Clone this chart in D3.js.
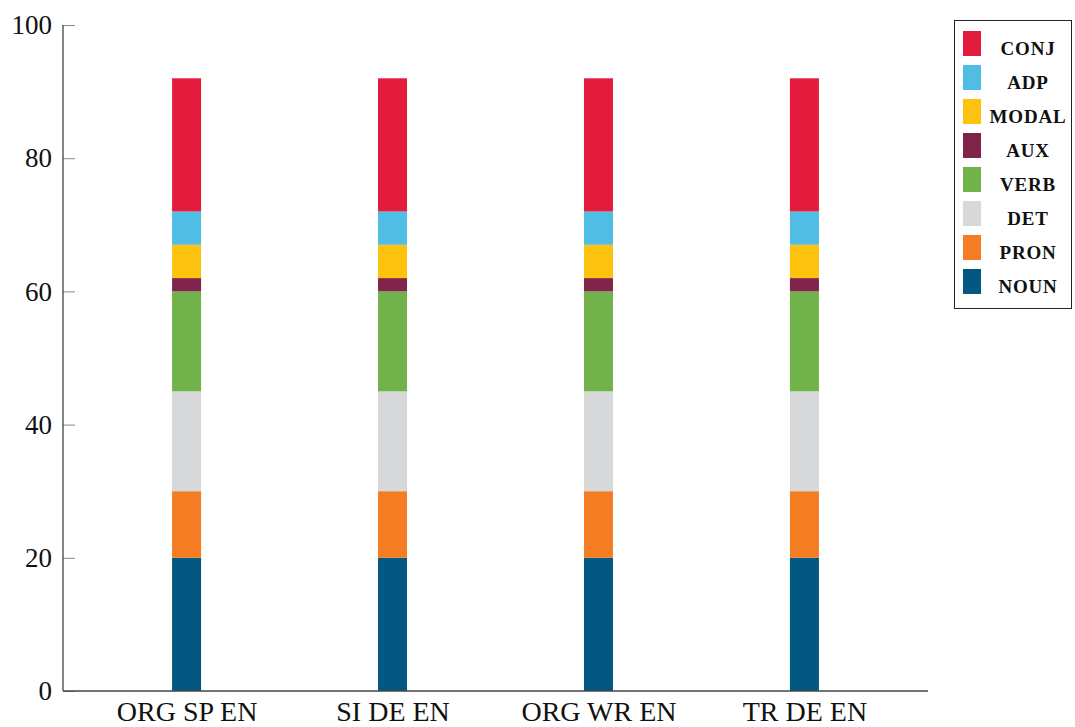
<!DOCTYPE html>
<html><head><meta charset="utf-8">
<script src="https://cdn.jsdelivr.net/npm/d3@7/dist/d3.min.js"></script>
<style>body{margin:0;background:#fff}svg{display:block}</style>
</head><body>
<svg id="chart" width="1075" height="727"></svg>
<script>
const categories = ["ORG SP EN", "SI DE EN", "ORG WR EN", "TR DE EN"];
const seriesNames = ["NOUN", "PRON", "DET", "VERB", "AUX", "MODAL", "ADP", "CONJ"];
const NOUN  = [20, 20, 20, 20];
const PRON  = [10, 10, 10, 10];
const DET   = [15, 15, 15, 15];
const VERB  = [15, 15, 15, 15];
const AUX   = [2, 2, 2, 2];
const MODAL = [5, 5, 5, 5];
const ADP   = [5, 5, 5, 5];
const CONJ  = [20, 20, 20, 20];
const yTicks = [0, 20, 40, 60, 80, 100];
const colors = ["#035783", "#f47d23", "#d7d8da", "#72b24b", "#80244b", "#fdc20e", "#4fbde4", "#e31c3d"];

const seriesValues = [NOUN, PRON, DET, VERB, AUX, MODAL, ADP, CONJ];
const table = categories.map((c, i) => {
  const row = {cat: c};
  seriesNames.forEach((s, k) => row[s] = seriesValues[k][i]);
  return row;
});
const stacked = d3.stack().keys(seriesNames)(table);

const svg = d3.select("#chart");
const font = "'Liberation Serif', 'DejaVu Serif', serif";
const mL = 63, mR = 928, mT = 25, mB = 691;

const x = d3.scalePoint().domain(categories).range([mL, mR]).padding(0.6);
const y = d3.scaleLinear().domain([0, 100]).range([mB, mT]);
const barW = 29;

// bars
stacked.forEach((layer, k) => {
  svg.append("g").attr("fill", colors[k])
    .selectAll("rect").data(layer).join("rect")
    .attr("x", d => x(d.data.cat) - barW / 2)
    .attr("width", barW)
    .attr("y", d => y(d[1]))
    .attr("height", d => y(d[0]) - y(d[1]));
});

// y axis
const yAxis = svg.append("g").attr("transform", `translate(${mL},0)`)
  .call(d3.axisRight(y).tickValues(yTicks).tickSize(12).tickFormat(d3.format("d")));
yAxis.select(".domain").remove();
yAxis.selectAll(".tick line").attr("stroke", "#888").attr("stroke-width", 1);
yAxis.selectAll(".tick text").attr("x", -11).attr("text-anchor", "end")
  .attr("font-family", font).attr("font-size", 27).attr("fill", "#111").attr("dy", "0.32em");
svg.append("line").attr("x1", mL).attr("x2", mL).attr("y1", mT).attr("y2", mB)
  .attr("stroke", "#333").attr("stroke-width", 1.2);

// x axis
const xAxis = svg.append("g").attr("transform", `translate(0,${mB})`)
  .call(d3.axisBottom(x).tickSize(0).tickPadding(10));
xAxis.select(".domain").remove();
xAxis.selectAll(".tick text").attr("font-family", font).attr("font-size", 28)
  .attr("fill", "#111").attr("dy", "0.72em");
svg.append("line").attr("x1", mL).attr("x2", mR).attr("y1", mB).attr("y2", mB)
  .attr("stroke", "#444").attr("stroke-width", 1.4);

// legend
const lg = svg.append("g");
lg.append("rect").attr("x", 954.5).attr("y", 20.5).attr("width", 117).attr("height", 288)
  .attr("fill", "#fff").attr("stroke", "#222").attr("stroke-width", 1);
const legendOrder = seriesNames.slice().reverse();
legendOrder.forEach((s, i) => {
  const k = seriesNames.indexOf(s);
  const yy = 31 + i * 34;
  lg.append("rect").attr("x", 963).attr("y", yy).attr("width", 18).attr("height", 25).attr("fill", colors[k]);
  lg.append("text").attr("x", 1028).attr("y", yy + 23.5).attr("text-anchor", "middle")
    .attr("font-family", font).attr("font-size", 19).attr("font-weight", "bold")
    .attr("letter-spacing", 0.8).attr("fill", "#111").text(s);
});
</script>
</body></html>
